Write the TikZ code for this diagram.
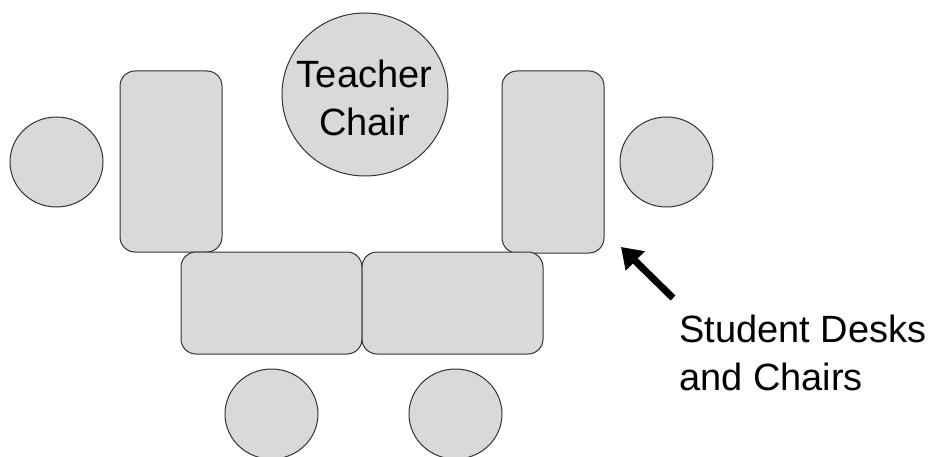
\documentclass[tikz,border=0pt]{standalone}
\usepackage{fontspec}
\setmainfont{Liberation Sans}
\usetikzlibrary{arrows.meta,shapes.geometric}
\begin{document}
\begin{tikzpicture}[x=1pt,y=-1pt,
  furniture/.style={draw=black!80,fill=black!15,line width=1pt},
  desk/.style={furniture,rectangle,rounded corners=15pt,inner sep=0pt},
  chair/.style={furniture,ellipse,inner sep=0pt,minimum width=93pt,minimum height=90pt},
  caption/.style={font=\fontsize{38}{48}\selectfont,inner sep=0pt},
  pointer/.style={line width=7pt,-{Triangle[length=20pt,width=26pt]}}]
\useasboundingbox (0,0) rectangle (934,457);
\clip (0,0) rectangle (934,457);

% teacher's chair (multi-line nodes sit on the baseline of their last line)
\node[furniture,ellipse,minimum width=166pt,minimum height=163pt] (teacher) at (365,94.5) {};
\node[caption,align=center,anchor=base] (teachertext) at (364.5,136) {Teacher\\Chair};

% side desks
\node[desk,minimum width=102pt,minimum height=181pt] (deskL) at (171,161.5) {};
\node[desk,minimum width=102pt,minimum height=182pt] (deskR) at (553,162) {};

% front desks
\node[desk,minimum width=181pt,minimum height=102pt] (deskBL) at (271.5,303) {};
\node[desk,minimum width=181pt,minimum height=102pt] (deskBR) at (452.5,303) {};

% student chairs
\node[chair] (chairL) at (56.5,162) {};
\node[chair] (chairR) at (666.5,162) {};
\node[chair] (chairBL) at (271.5,414) {};
\node[chair] (chairBR) at (455.5,414) {};

% label and pointer
\node[caption,align=left,anchor=base west] (students) at (679,390) {Student Desks\\and Chairs};
\coordinate (tail) at (673,298);
\coordinate (tip) at (621,247);
\draw[pointer] (tail) -- (tip);
\end{tikzpicture}
\end{document}
